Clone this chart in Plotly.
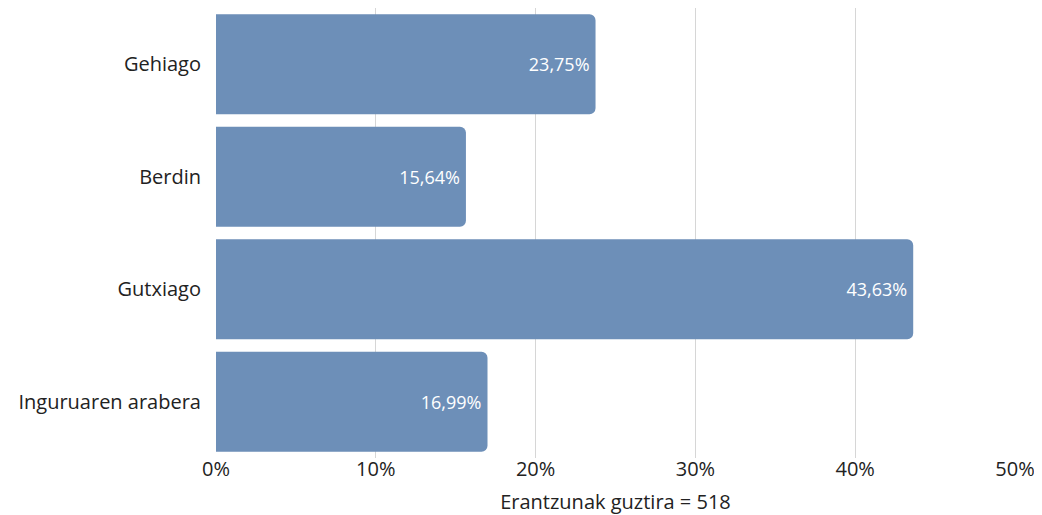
import plotly.graph_objects as go

categories = ["Gehiago", "Berdin", "Gutxiago", "Inguruaren arabera"]
values = [23.75, 15.64, 43.63, 16.99]
labels = ["23,75%", "15,64%", "43,63%", "16,99%"]
tick_vals = [0, 10, 20, 30, 40, 50]
tick_text = ["0%", "10%", "20%", "30%", "40%", "50%"]
axis_title = "Erantzunak guztira = 518"

FONT = "Open Sans"

fig = go.Figure(go.Bar(
    y=categories, x=values, orientation="h",
    marker=dict(color="#6d8fb8", line=dict(width=0)),
    text=labels, textposition="inside", insidetextanchor="end",
    textfont=dict(color="white", size=18, family=FONT),
    hoverinfo="skip",
))

# page body has an 8px margin, so the figure is sized/offset to compensate
fig.update_layout(
    width=1034, height=507,
    margin=dict(l=208, r=27, t=0, b=57),
    paper_bgcolor="white", plot_bgcolor="white",
    bargap=0.11, barcornerradius=6,
    showlegend=False,
    font=dict(family=FONT, color="#222222"),
)
fig.update_xaxes(
    range=[0, 50], tickvals=tick_vals, ticktext=tick_text,
    showgrid=True, gridcolor="#d6d6d6", gridwidth=1,
    zeroline=False, showline=False, automargin=False,
    tickfont=dict(size=20, color="#222222"),
    title=dict(text=axis_title, font=dict(size=20, color="#222222"), standoff=16),
    ticks="", ticklabelstandoff=-3,
)
fig.update_yaxes(
    autorange="reversed", showgrid=False, zeroline=False, showline=False,
    automargin=False,
    tickfont=dict(size=20, color="#222222"), ticks="", ticklabelstandoff=14,
)

fig.write_html("out.html")
